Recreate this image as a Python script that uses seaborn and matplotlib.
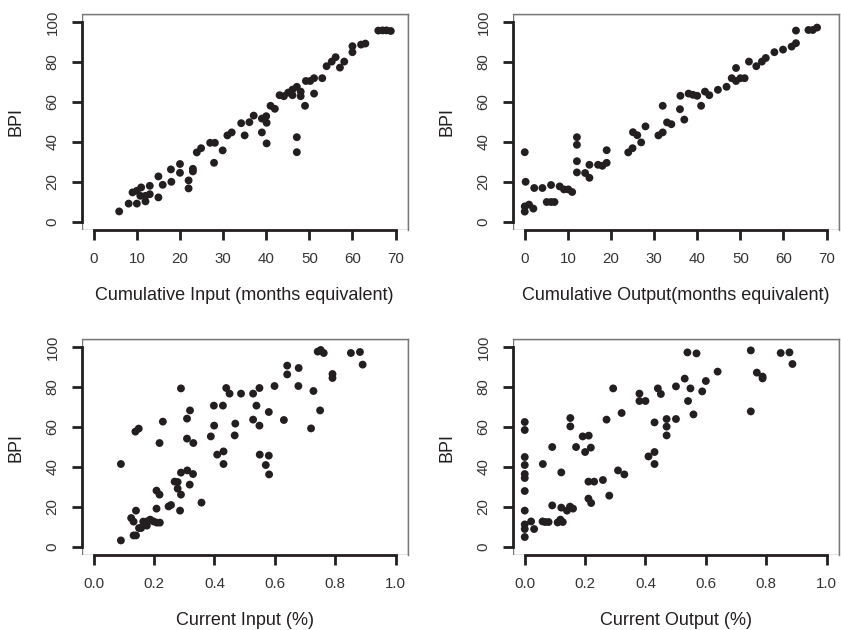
import numpy as np
import pandas as pd
import seaborn as sns
from matplotlib import pyplot as plt
from matplotlib.patches import Rectangle

sns.set_style('white')
plt.rcParams['font.family'] = ['Liberation Sans', 'DejaVu Sans']

# cumulative input (months) vs BPI
cum_in_x = [5.9, 8.1, 9.0, 10.0, 10.0, 11.0, 10.8, 12.0, 12.0, 13.0, 13.0, 15.0, 15.0, 16.0,
            17.9, 18.0, 20.0, 20.0, 22.0, 22.0, 23.0, 23.0, 23.9, 24.9, 27.0, 28.1, 27.9, 29.9,
            31.0, 32.0, 34.2, 35.0, 36.1, 37.1, 39.0, 40.0, 39.0, 40.1, 40.1, 41.0, 42.0, 43.1,
            44.1, 45.1, 46.1, 46.1, 47.1, 48.0, 48.0, 47.1, 47.1, 49.0, 49.2, 50.2, 51.1, 51.1,
            53.0, 54.0, 55.2, 56.1, 57.1, 58.1, 60.0, 60.0, 62.0, 63.0, 66.0, 67.0, 67.9, 68.9]
cum_in_y = [5.3, 9.2, 14.8, 15.6, 9.2, 17.3, 13.1, 13.1, 10.3, 13.9, 18.1, 22.8, 12.3, 18.6,
            26.3, 20.1, 29.0, 24.6, 20.8, 16.8, 26.6, 25.3, 34.8, 36.9, 39.6, 39.6, 29.6, 35.8,
            43.3, 44.8, 49.4, 43.3, 49.9, 53.2, 51.7, 52.9, 44.8, 49.6, 39.3, 58.1, 56.6, 63.4,
            62.9, 64.7, 63.4, 66.2, 67.6, 65.2, 62.9, 42.4, 34.9, 58.1, 70.5, 70.5, 71.9, 64.2,
            71.9, 77.9, 80.2, 82.4, 77.2, 80.2, 87.9, 84.9, 88.7, 89.2, 95.7, 95.8, 95.8, 95.5]

# cumulative output (months) vs BPI
cum_out_x = [0.0, 0.0, 1.0, 2.0, 0.0, 0.2, 2.2, 4.1, 5.1, 6.1, 6.9, 6.1, 8.1, 9.1, 10.1, 11.0,
             12.1, 12.1, 12.1, 12.1, 14.0, 15.0, 15.0, 17.0, 18.0, 19.0, 19.0, 24.0, 25.0, 25.1,
             26.1, 27.0, 28.0, 31.0, 32.0, 32.0, 33.0, 34.0, 36.0, 36.1, 37.0, 38.0, 39.0, 40.0,
             40.9, 41.8, 42.8, 44.8, 46.8, 48.0, 49.0, 49.0, 50.0, 51.0, 52.0, 53.7, 55.0, 55.9,
             57.9, 59.9, 61.9, 62.9, 62.9, 65.8, 66.8, 67.8]
cum_out_y = [5.2, 7.8, 8.7, 6.7, 34.9, 20.1, 17.0, 17.0, 10.0, 10.0, 10.0, 18.5, 17.8, 16.3,
             16.3, 15.0, 42.4, 38.6, 30.4, 24.8, 24.5, 22.1, 28.6, 28.6, 28.1, 29.6, 35.9, 34.8,
             36.9, 44.9, 43.4, 39.8, 47.8, 43.3, 44.8, 58.1, 49.8, 48.9, 56.4, 63.1, 51.2, 64.2,
             63.6, 63.1, 58.1, 65.2, 63.4, 66.1, 67.6, 71.9, 77.0, 70.5, 71.9, 71.9, 80.2, 77.9,
             80.2, 82.0, 84.9, 86.2, 87.7, 89.4, 95.7, 96.0, 96.0, 97.2]

# current input (%) vs BPI
cur_in_x = [0.090, 0.090, 0.132, 0.140, 0.124, 0.132, 0.140, 0.138, 0.149, 0.150, 0.157, 0.164,
            0.176, 0.176, 0.187, 0.198, 0.209, 0.219, 0.208, 0.208, 0.218, 0.218, 0.229, 0.248,
            0.256, 0.286, 0.268, 0.278, 0.278, 0.289, 0.289, 0.289, 0.310, 0.318, 0.329, 0.309,
            0.330, 0.309, 0.319, 0.357, 0.388, 0.399, 0.398, 0.428, 0.409, 0.430, 0.430, 0.439,
            0.450, 0.467, 0.469, 0.488, 0.528, 0.549, 0.539, 0.528, 0.549, 0.580, 0.550, 0.580,
            0.570, 0.581, 0.599, 0.630, 0.641, 0.641, 0.679, 0.678, 0.720, 0.728, 0.750, 0.742,
            0.752, 0.762, 0.791, 0.791, 0.852, 0.882, 0.891]
cur_in_y = [3.3, 41.5, 5.8, 5.8, 14.5, 12.7, 18.2, 57.7, 59.2, 9.5, 9.5, 12.7,
            10.7, 12.8, 13.7, 12.8, 12.2, 12.2, 19.2, 28.2, 26.2, 52.0, 62.7, 20.3,
            21.0, 18.2, 32.7, 32.5, 29.2, 26.2, 37.2, 79.3, 38.3, 31.2, 36.5, 54.2,
            52.0, 64.2, 68.3, 22.2, 55.3, 60.7, 70.7, 70.7, 46.2, 47.8, 41.5, 79.5,
            76.7, 55.8, 61.7, 76.7, 76.7, 79.5, 70.7, 63.7, 60.7, 67.5, 46.2, 45.7,
            41.0, 36.3, 80.5, 63.5, 90.7, 86.3, 89.5, 80.5, 59.3, 78.0, 68.3, 97.7,
            98.5, 97.0, 86.5, 84.5, 97.0, 97.5, 91.2]

# current output (%) vs BPI
cur_out_x = [0.0, 0.0, 0.0, 0.021, 0.031, 0.0, 0.0, 0.0, 0.0, 0.0, 0.0, 0.0, 0.0, 0.059,
             0.068, 0.079, 0.060, 0.091, 0.091, 0.109, 0.118, 0.126, 0.121, 0.121, 0.140, 0.150,
             0.160, 0.151, 0.151, 0.170, 0.192, 0.212, 0.200, 0.219, 0.211, 0.230, 0.211, 0.220,
             0.259, 0.280, 0.271, 0.293, 0.309, 0.330, 0.321, 0.380, 0.380, 0.400, 0.410, 0.430,
             0.430, 0.430, 0.441, 0.451, 0.470, 0.470, 0.470, 0.501, 0.501, 0.530, 0.539, 0.569,
             0.541, 0.549, 0.559, 0.588, 0.600, 0.639, 0.749, 0.749, 0.769, 0.788, 0.788, 0.848,
             0.877, 0.887]
cur_out_y = [5.0, 9.0, 11.3, 12.8, 9.0, 18.2, 28.0, 34.5, 36.5, 41.0, 45.0, 58.5, 62.5, 12.8,
             12.5, 12.5, 41.5, 50.0, 20.8, 12.3, 13.7, 12.5, 37.3, 19.7, 18.2, 20.2,
             19.2, 60.3, 64.5, 50.0, 55.3, 55.7, 47.5, 49.7, 32.7, 32.7, 24.2, 22.0,
             33.5, 25.7, 63.7, 79.3, 38.3, 36.3, 67.0, 76.7, 73.0, 73.0, 45.3, 47.5,
             41.5, 62.3, 79.3, 76.5, 64.0, 60.2, 55.8, 80.3, 64.0, 84.2, 97.3, 96.8,
             73.0, 79.3, 66.3, 77.8, 83.0, 87.7, 98.3, 67.8, 87.2, 85.2, 84.3, 97.0,
             97.3, 91.5]

panels = [
    (cum_in_x, cum_in_y, 'Cumulative Input (months equivalent)', np.arange(0, 71, 10), None, (0, 70)),
    (cum_out_x, cum_out_y, 'Cumulative Output(months equivalent)', np.arange(0, 71, 10), None, (0, 70)),
    (cur_in_x, cur_in_y, 'Current Input (%)', np.linspace(0, 1, 6), '{:.1f}', (0, 1)),
    (cur_out_x, cur_out_y, 'Current Output (%)', np.linspace(0, 1, 6), '{:.1f}', (0, 1)),
]
boxes = [(0.0971, 0.6349), (0.6096, 0.6349), (0.0971, 0.1190), (0.6096, 0.1190)]
ink = '#231f20'

fig = plt.figure(figsize=(8.41, 6.3), dpi=100)
for (xs, ys, xlab, xticks, fmt, xlim), (left, bottom) in zip(panels, boxes):
    ax = fig.add_axes([left, bottom, 0.3876, 0.3429])
    df = pd.DataFrame({'x': xs, 'y': ys})
    sns.scatterplot(data=df, x='x', y='y', ax=ax, s=32, color=ink, edgecolor='none', clip_on=False)
    pad = 0.04 * (xlim[1] - xlim[0])
    ax.set_xlim(xlim[0] - pad, xlim[1] + pad)
    ax.set_ylim(-4, 104)
    ax.set_xticks(xticks)
    if fmt:
        ax.set_xticklabels([fmt.format(t) for t in xticks])
    ax.set_yticks(np.arange(0, 101, 20))
    ax.set_yticklabels([str(t) for t in range(0, 101, 20)], rotation=90, va='center')
    for side in ['top', 'right']:
        ax.spines[side].set_color('#777777')
        ax.spines[side].set_linewidth(1.0)
    ax.add_patch(Rectangle((0, 0), 1, 1, transform=ax.transAxes, fill=False,
                           edgecolor='#777777', linewidth=1.0, zorder=0.5))
    ax.spines['left'].set_bounds(0, 100)
    ax.spines['bottom'].set_bounds(xlim[0], xlim[1])
    for side in ['left', 'bottom']:
        ax.spines[side].set_color(ink)
        ax.spines[side].set_linewidth(2.0)
    ax.tick_params(bottom=True, left=True, direction='out', length=7, width=2, color=ink,
                   labelcolor='#333333', labelsize=10.8, pad=9)
    ax.set_xlabel(xlab, fontsize=13, color=ink, labelpad=15)
    ax.set_ylabel('BPI', fontsize=13, color=ink, labelpad=15)

fig.savefig('out.png', dpi=100)
